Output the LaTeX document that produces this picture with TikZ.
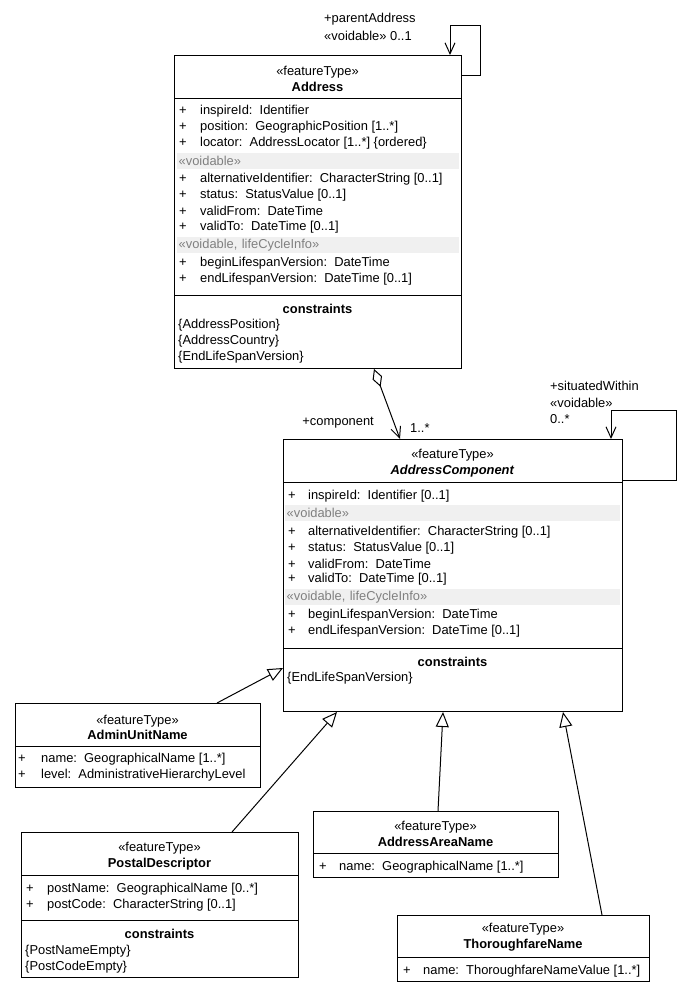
\documentclass[tikz,border=0pt]{standalone}
\usepackage{fontspec}
\setmainfont{Liberation Sans}
\usepackage{tikz}
\usetikzlibrary{arrows.meta,calc}
\definecolor{umlband}{HTML}{F0F0F0}
\definecolor{umlgray}{HTML}{808080}
\tikzset{
  umlbox/.style={draw, line width=1pt, anchor=north west, inner sep=0pt},
  umlline/.style={line width=1pt},
  attr/.style={anchor=west, inner sep=0pt, yshift=-1.2pt},
  title/.style={align=center, inner sep=0pt, yshift=-1pt},
  band/.style={anchor=north west, fill=umlband, text=umlgray, minimum height=16pt,
    inner xsep=1.5pt, inner ysep=0pt, text width=#1, align=left},
  navarrow/.style={umlline, -{Straight Barb[length=11pt, width=10pt]}},
  genarrow/.style={umlline, -{Triangle[open, length=15pt, width=13pt]}},
}
\begin{document}
\begin{tikzpicture}[x=1pt, y=-1pt, font=\fontsize{12.9}{15.5}\selectfont]
\useasboundingbox (0,0) rectangle (691,1008);
% Address
\node[umlbox, minimum width=287pt, minimum height=313pt] (address) at (174,55) {};
\node[title] (address-t) at (317.5,78) {«featureType»\\\textbf{Address}};
\draw[umlline] (address.west |- 0,99) -- (address.east |- 0,99);
\draw[umlline] (address.west |- 0,295) -- (address.east |- 0,295);
\node[band=279pt] (address-b1) at (177,153) {«voidable»};
\node[band=279pt] (address-b2) at (177,237) {«voidable, lifeCycleInfo»};
\foreach \y/\t [count=\i] in {110/{inspireId:~~Identifier},
    126/{position:~~GeographicPosition [1..*]},
    142/{locator:~~AddressLocator [1..*] \{ordered\}},
    178/{alternativeIdentifier:~~CharacterString [0..1]},
    194/{status:~~StatusValue [0..1]},
    210/{validFrom:~~DateTime},
    226/{validTo:~~DateTime [0..1]},
    262/{beginLifespanVersion:~~DateTime},
    278/{endLifespanVersion:~~DateTime [0..1]}}
  \node[attr] (address-a\i) at (179,\y) {\makebox[21pt][l]{+}\t};
\node[title] (address-ct) at (317.5,308) {\textbf{constraints}};
\node[attr] (address-c1) at (178,324) {\{AddressPosition\}};
\node[attr] (address-c2) at (178,340) {\{AddressCountry\}};
\node[attr] (address-c3) at (178,356) {\{EndLifeSpanVersion\}};
\draw[navarrow] ([yshift=-21pt]address.north east) -| ([xshift=18pt, yshift=29pt]address.north east)
  -| ([xshift=-12pt]address.north east);
\node[attr] (parent-l1) at (324,18) {+parentAddress};
\node[attr] (parent-l2) at (324,35) {«voidable» 0..1};

% AddressComponent
\node[umlbox, minimum width=339pt, minimum height=272pt] (comp) at (283,439) {};
\node[title] (comp-t) at (452.5,462) {«featureType»\\\textbf{\textit{AddressComponent}}};
\draw[umlline] (comp.west |- 0,482) -- (comp.east |- 0,482);
\draw[umlline] (comp.west |- 0,648) -- (comp.east |- 0,648);
\node[band=332pt] (comp-b1) at (285,505) {«voidable»};
\node[band=332pt] (comp-b2) at (285,589) {«voidable, lifeCycleInfo»};
\foreach \y/\t [count=\i] in {495/{inspireId:~~Identifier [0..1]},
    531/{alternativeIdentifier:~~CharacterString [0..1]},
    547/{status:~~StatusValue [0..1]},
    563/{validFrom:~~DateTime},
    578/{validTo:~~DateTime [0..1]},
    614/{beginLifespanVersion:~~DateTime},
    630/{endLifespanVersion:~~DateTime [0..1]}}
  \node[attr] (comp-a\i) at (288,\y) {\makebox[20pt][l]{+}\t};
\node[title] (comp-ct) at (452.5,661) {\textbf{constraints}};
\node[attr] (comp-c1) at (287,677) {\{EndLifeSpanVersion\}};
\draw[navarrow] ([yshift=-41pt]comp.north east) -| ([xshift=53pt, yshift=29pt]comp.north east)
  -| ([xshift=-12pt]comp.north east);
\node[attr] (within-l1) at (550,385) {+situatedWithin};
\node[attr] (within-l2) at (550,402) {«voidable»};
\node[attr] (within-l3) at (550,418) {0..*};

% aggregation Address -- AddressComponent
\draw[umlline, {Diamond[open, length=19pt, width=10pt]}-{Straight Barb[length=11pt, width=10pt]}]
  ([xshift=200pt]address.south west) -- ([xshift=117pt]comp.north west);
\node[attr, anchor=east] (component-l) at (374,421) {+component};
\node[attr] (component-m) at (410,427) {1..*};

% AdminUnitName
\node[umlbox, minimum width=245pt, minimum height=84pt] (admin) at (15,703) {};
\node[title] (admin-t) at (137.5,726.5) {«featureType»\\\textbf{AdminUnitName}};
\draw[umlline] (admin.west |- 0,746) -- (admin.east |- 0,746);
\node[attr] (admin-a1) at (18,758) {\makebox[23pt][l]{+}name:~~GeographicalName [1..*]};
\node[attr] (admin-a2) at (18,774) {\makebox[23pt][l]{+}level:~~AdministrativeHierarchyLevel};
\draw[genarrow] ([xshift=202pt]admin.north west) -- ([yshift=44pt]comp.south west);

% PostalDescriptor
\node[umlbox, minimum width=277pt, minimum height=145pt] (postal) at (21,832) {};
\node[title] (postal-t) at (159.5,855) {«featureType»\\\textbf{PostalDescriptor}};
\draw[umlline] (postal.west |- 0,875) -- (postal.east |- 0,875);
\draw[umlline] (postal.west |- 0,920) -- (postal.east |- 0,920);
\node[attr] (postal-a1) at (26,888) {\makebox[21pt][l]{+}postName:~~GeographicalName [0..*]};
\node[attr] (postal-a2) at (26,904) {\makebox[21pt][l]{+}postCode:~~CharacterString [0..1]};
\node[title] (postal-ct) at (159.5,933) {\textbf{constraints}};
\node[attr] (postal-c1) at (25,950) {\{PostNameEmpty\}};
\node[attr] (postal-c2) at (25,966) {\{PostCodeEmpty\}};
\draw[genarrow] ([xshift=211pt]postal.north west) -- ([xshift=54pt]comp.south west);

% AddressAreaName
\node[umlbox, minimum width=245pt, minimum height=66pt] (area) at (313,811) {};
\node[title] (area-t) at (435.5,833) {«featureType»\\\textbf{AddressAreaName}};
\draw[umlline] (area.west |- 0,853) -- (area.east |- 0,853);
\node[attr] (area-a1) at (319,866) {\makebox[20pt][l]{+}name:~~GeographicalName [1..*]};
\draw[genarrow] ([xshift=125pt]area.north west) -- ([xshift=160pt]comp.south west);

% ThoroughfareName
\node[umlbox, minimum width=252pt, minimum height=66pt] (thor) at (397,915) {};
\node[title] (thor-t) at (523,936) {«featureType»\\\textbf{ThoroughfareName}};
\draw[umlline] (thor.west |- 0,957) -- (thor.east |- 0,957);
\node[attr] (thor-a1) at (403,970) {\makebox[20pt][l]{+}name:~~ThoroughfareNameValue [1..*]};
\draw[genarrow] ([xshift=205pt]thor.north west) -- ([xshift=280pt]comp.south west);
\end{tikzpicture}
\end{document}
